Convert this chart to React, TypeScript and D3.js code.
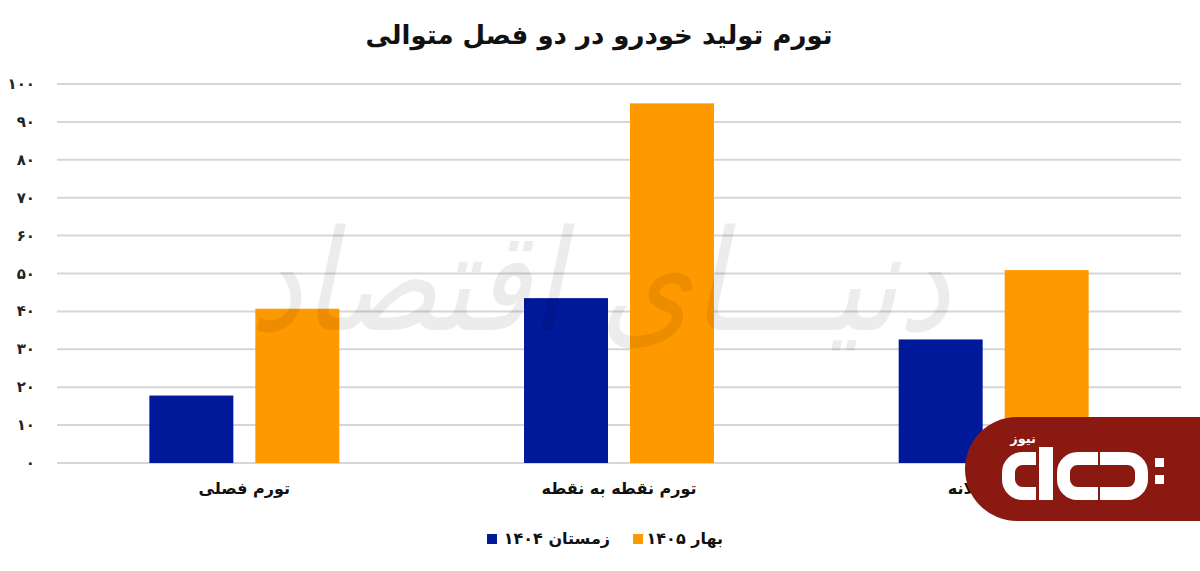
import React from "react";
import * as d3 from "d3";

// داده‌های نمودار
const categories = ["تورم فصلی", "تورم نقطه به نقطه", "تورم سالانه"];
const seriesNames = ["زمستان ۱۴۰۴", "بهار ۱۴۰۵"];
const winterValues = [17.8, 43.5, 32.6];
const springValues = [40.7, 94.9, 50.9];
const yTickValues = [0, 10, 20, 30, 40, 50, 60, 70, 80, 90, 100];
const chartTitle = "تورم تولید خودرو در دو فصل متوالی";

const colors = ["#00189a", "#ff9900"];
const faFont = "'DejaVu Sans', 'Noto Sans', sans-serif";

/** تبدیل عدد به ارقام فارسی */
const toFa = (n: number) => String(n).replace(/\d/g, (d) => "۰۱۲۳۴۵۶۷۸۹"[+d]);

/** مسیر حرف C با دهانه‌ی باز (برای لوگو) */
function cShape(L: number, R: number, T: number, B: number, openRight: boolean) {
    const h = 6.5, r = 14;
    const p = d3.path();
    if (openRight) {
        p.moveTo(R, T + h);
        p.lineTo(L + h + r, T + h);
        p.arcTo(L + h, T + h, L + h, T + h + r, r);
        p.lineTo(L + h, B - h - r);
        p.arcTo(L + h, B - h, L + h + r, B - h, r);
        p.lineTo(R, B - h);
    } else {
        p.moveTo(L, T + h);
        p.lineTo(R - h - r, T + h);
        p.arcTo(R - h, T + h, R - h, T + h + r, r);
        p.lineTo(R - h, B - h - r);
        p.arcTo(R - h, B - h, R - h - r, B - h, r);
        p.lineTo(L, B - h);
    }
    return p.toString();
}

export default function App() {
    const width = 1200, height = 571;

    const x0 = d3.scaleBand<string>()
        .domain(categories)
        .range([57, 1181])
        .paddingInner(0.493)
        .paddingOuter(0.2465);
    const x1 = d3.scaleBand<string>()
        .domain(seriesNames)
        .range([0, x0.bandwidth()])
        .paddingInner(0.2075);
    const y = d3.scaleLinear().domain([0, 100]).range([463, 84]);

    const rows = categories.map((c, i) => ({
        category: c,
        values: [winterValues[i], springValues[i]],
    }));

    return (
        <svg width={width} height={height}
            style={{ position: "absolute", left: 0, top: 0, background: "#fff", display: "block" }}>
            <rect width={width} height={height} fill="#fff" />

            {/* عنوان */}
            <text x={599} y={44} textAnchor="middle" fontFamily={faFont} fontWeight="bold"
                fontSize={26} fill="#111">{chartTitle}</text>

            {/* خطوط شبکه و برچسب محور */}
            {yTickValues.map((t) => (
                <g key={t}>
                    <line x1={57} x2={1181} y1={y(t)} y2={y(t)} stroke="#d6d6d6" strokeWidth={2} />
                    <text x={35} y={y(t) + 5} textAnchor="end" fontFamily={faFont} fontWeight="bold"
                        fontSize={15} fill="#222">{toFa(t)}</text>
                </g>
            ))}

            {/* ستون‌ها */}
            {rows.map((r) => (
                <g key={r.category} transform={`translate(${x0(r.category)},0)`}>
                    {r.values.map((v, j) => (
                        <rect key={j} x={x1(seriesNames[j])} y={y(v)} width={x1.bandwidth()}
                            height={y(0) - y(v)} fill={colors[j]} />
                    ))}
                </g>
            ))}

            {/* برچسب دسته‌ها */}
            {categories.map((c) => (
                <text key={c} x={(x0(c) ?? 0) + x0.bandwidth() / 2} y={494} textAnchor="middle"
                    fontFamily={faFont} fontWeight="bold" fontSize={16} fill="#111">{c}</text>
            ))}

            {/* واترمارک */}
            <g transform="translate(600,330) skewX(-12)" opacity={0.07}>
                <text x={0} y={0} textAnchor="middle" fontFamily={faFont} fontSize={140}
                    fill="#000" textLength={700} lengthAdjust="spacingAndGlyphs">دنیـــای اقتصاد</text>
            </g>

            {/* راهنما */}
            <rect x={487} y={534} width={10} height={10} fill={colors[0]} />
            <text x={610} y={544} textAnchor="end" fontFamily={faFont} fontWeight="bold" fontSize={16}
                fill="#111">{seriesNames[0]}</text>
            <rect x={633} y={534} width={10} height={10} fill={colors[1]} />
            <text x={723} y={544} textAnchor="end" fontFamily={faFont} fontWeight="bold" fontSize={16}
                fill="#111">{seriesNames[1]}</text>

            {/* لوگو */}
            <g>
                <path d="M1200,417 H1017 A52,52 0 0 0 1017,521 H1200 Z" fill="#8a1912" />
                <text x={1036} y={443} textAnchor="end" fontFamily={faFont} fontWeight="bold" fontSize={13}
                    fill="#fff">نیوز</text>
                <path d={cShape(1002, 1036, 452, 500, true)} fill="none" stroke="#fff" strokeWidth={13} />
                <rect x={1039} y={447} width={14} height={53} fill="#fff" />
                <path d={cShape(1057, 1098, 452, 500, true)} fill="none" stroke="#fff" strokeWidth={13} />
                <path d={cShape(1100, 1148, 452, 500, false)} fill="none" stroke="#fff" strokeWidth={13} />
                <rect x={1155} y={458} width={9} height={9} fill="#fff" />
                <rect x={1155} y={475} width={9} height={9} fill="#fff" />
            </g>
        </svg>
    );
}
